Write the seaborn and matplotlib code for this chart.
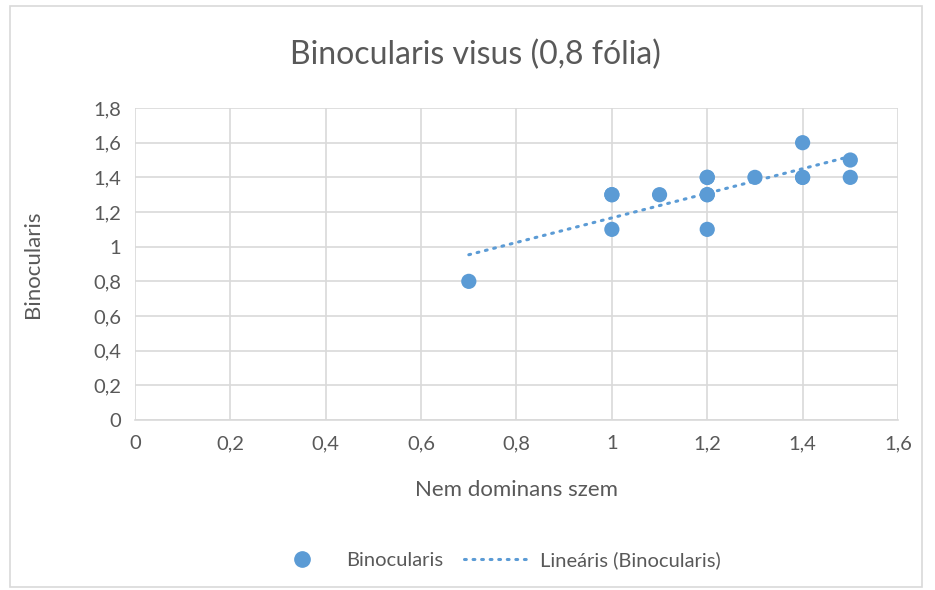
import numpy as np
import matplotlib
matplotlib.use("Agg")
import matplotlib.pyplot as plt
import matplotlib.patches as mpatches
from matplotlib.lines import Line2D
from matplotlib.ticker import FuncFormatter
import seaborn as sns

# data (some points overlap)
nem_dominans = [0.7, 1.0, 1.0, 1.0, 1.1, 1.2, 1.2, 1.2, 1.2, 1.2, 1.3, 1.4, 1.4, 1.4, 1.5, 1.5]
binocularis = [0.8, 1.3, 1.3, 1.1, 1.3, 1.4, 1.4, 1.3, 1.3, 1.1, 1.4, 1.6, 1.4, 1.4, 1.5, 1.4]

BLUE = "#5b9bd5"
TEXT = "#595959"
GRID = "#d9d9d9"
DOTS = (0, (0.6, 2.2))

sns.set_style("white")
plt.rcParams["font.family"] = ["Lato", "DejaVu Sans"]

fig = plt.figure(figsize=(9.35, 5.9), dpi=100)
ax = fig.add_axes([0.1444, 0.2881, 0.8160, 0.5288])

sns.scatterplot(x=nem_dominans, y=binocularis, ax=ax, color=BLUE, s=120,
                edgecolor="none", zorder=3, legend=False)

# linear trendline
slope, intercept = np.polyfit(nem_dominans, binocularis, 1)
tx = np.array([min(nem_dominans), max(nem_dominans)])
ax.plot(tx, slope * tx + intercept, color=BLUE, linestyle=DOTS,
        linewidth=2.2, dash_capstyle="round", zorder=2)

ax.set_xlim(0, 1.6)
ax.set_ylim(0, 1.8)
ax.set_xticks(np.arange(0, 1.61, 0.2))
ax.set_yticks(np.arange(0, 1.81, 0.2))
fmt = FuncFormatter(lambda v, p: ("%g" % round(v, 1)).replace(".", ","))
ax.xaxis.set_major_formatter(fmt)
ax.yaxis.set_major_formatter(fmt)
ax.tick_params(axis="both", length=0, labelsize=14.5, labelcolor=TEXT)
ax.tick_params(axis="x", pad=11)
ax.tick_params(axis="y", pad=10)

ax.grid(True, color=GRID, linewidth=1.2)
ax.set_axisbelow(True)
for side in ["top", "right", "left"]:
    ax.spines[side].set_visible(False)
ax.spines["bottom"].set_color(GRID)
ax.spines["bottom"].set_linewidth(1.2)

ax.set_xlabel("Nem dominans szem", fontsize=16, color=TEXT, labelpad=20)
ax.set_ylabel("Binocularis", fontsize=16, color=TEXT, labelpad=36)

fig.text(0.509, 0.907, "Binocularis visus (0,8 fólia)", ha="center", va="center",
         fontsize=23, color=TEXT)

handles = [
    Line2D([], [], marker="o", linestyle="none", color=BLUE, markersize=11),
    Line2D([], [], color=BLUE, linestyle=DOTS, linewidth=2.2, dash_capstyle="round"),
]
fig.legend(handles, ["Binocularis", "Lineáris (Binocularis)"], loc="center",
           bbox_to_anchor=(0.53, 0.05), ncol=2, frameon=False, fontsize=14.5,
           labelcolor=TEXT, columnspacing=1.0, handlelength=3.2, handletextpad=0.6)

# chart border
fig.patches.append(mpatches.Rectangle((0.011, 0.005), 0.975, 0.985, transform=fig.transFigure,
                                      fill=False, edgecolor="#d9d9d9", linewidth=1.2))

fig.savefig("out.png", dpi=100)
